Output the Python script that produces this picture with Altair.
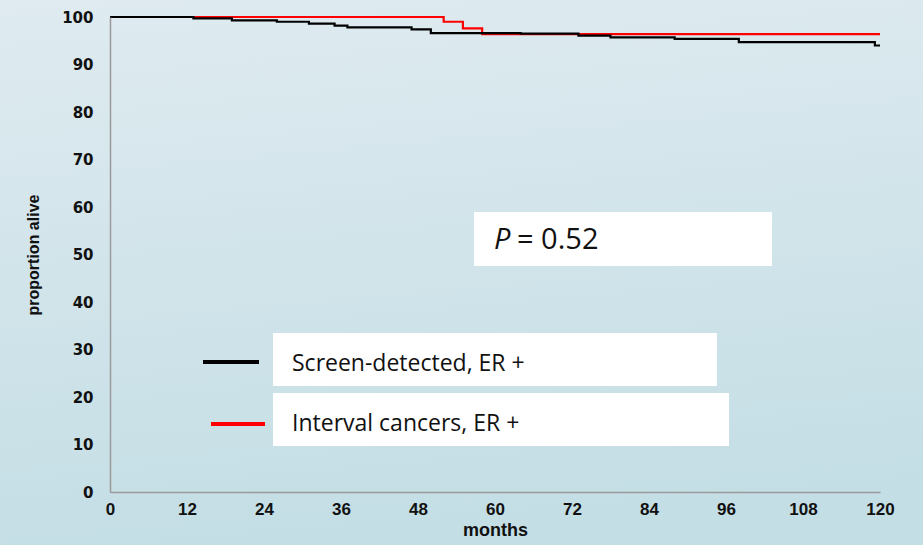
import altair as alt
import pandas as pd

# Kaplan-Meier steps (months, % alive)
screen_months = [0, 13, 19, 26, 31, 35, 37, 47, 50, 64, 73, 78, 88, 98, 119.2, 120]
screen_alive = [100, 99.7, 99.3, 99.0, 98.6, 98.2, 97.8, 97.4, 96.6, 96.5, 96.1, 95.7, 95.4, 94.7, 94.0, 94.0]

interval_months = [0, 52, 55, 58, 120]
interval_alive = [100, 99.0, 97.6, 96.4, 96.4]

x_ticks = [0, 12, 24, 36, 48, 60, 72, 84, 96, 108, 120]
y_ticks = [0, 10, 20, 30, 40, 50, 60, 70, 80, 90, 100]

series_names = ["Screen-detected, ER +", "Interval cancers, ER +"]
series_colors = ["#000000", "#ff0000"]
p_label = "P"
p_value_text = "= 0.52"

W, H = 770, 475
PAD = {"left": 110, "top": 17, "right": 43, "bottom": 53}

screen = pd.DataFrame({"months": screen_months, "alive": screen_alive})
interval = pd.DataFrame({"months": interval_months, "alive": interval_alive})
one = pd.DataFrame({"k": [0]})

x_scale = alt.Scale(domain=[0, 120], nice=False, zero=False)
y_scale = alt.Scale(domain=[0, 100], nice=False)

# page background gradient
bg = alt.Chart(one).mark_rect(
    fill=alt.Gradient(
        gradient="linear", x1=0, y1=0, x2=0.15, y2=1,
        stops=[alt.GradientStop(offset=0, color="#dfebf0"),
               alt.GradientStop(offset=1, color="#c4dee5")],
    ),
    clip=False,
).encode(
    x=alt.value(-PAD["left"]), x2=alt.value(W + PAD["right"]),
    y=alt.value(-PAD["top"]), y2=alt.value(H + PAD["bottom"]),
)

x_axis = alt.Axis(
    values=x_ticks, title="months", ticks=False, grid=False, zindex=1,
    labelFlush=False,
    labelFont="Liberation Sans", labelFontWeight="bold", labelFontSize=17,
    labelColor="#111111", labelPadding=9,
    titleFont="Liberation Sans", titleFontWeight="bold", titleFontSize=18,
    titleColor="#111111", titlePadding=4,
    domainColor="#9a9a9a", domainWidth=1.5,
)
y_axis = alt.Axis(
    values=y_ticks, title="proportion alive", ticks=False, grid=False, zindex=1,
    labelFlush=False,
    labelFont="DejaVu Sans", labelFontWeight="bold", labelFontSize=15,
    labelColor="#111111", labelPadding=17,
    titleFont="Liberation Sans", titleFontWeight="bold", titleFontSize=16,
    titleColor="#111111", titlePadding=20,
    domainColor="#9a9a9a", domainWidth=1.5,
)

red_line = alt.Chart(interval).mark_line(
    interpolate="step-after", color=series_colors[1], strokeWidth=2.2
).encode(
    x=alt.X("months:Q", scale=x_scale, axis=x_axis),
    y=alt.Y("alive:Q", scale=y_scale, axis=y_axis),
)
black_line = alt.Chart(screen).mark_line(
    interpolate="step-after", color=series_colors[0], strokeWidth=2.2
).encode(
    x=alt.X("months:Q", scale=x_scale),
    y=alt.Y("alive:Q", scale=y_scale),
)

def box(x0, x1, y0, y1):
    return alt.Chart(one).mark_rect(fill="white", clip=False).encode(
        x=alt.value(x0), x2=alt.value(x1), y=alt.value(y0), y2=alt.value(y1)
    )

def txt(s, x, y, size, style="normal", font="Open Sans"):
    return alt.Chart(one).mark_text(
        text=s, align="left", baseline="middle", font=font, fontSize=size,
        fontStyle=style, color="#111111",
    ).encode(x=alt.value(x), y=alt.value(y))

def key(x0, x1, y, color):
    return alt.Chart(one).mark_rule(color=color, strokeWidth=4).encode(
        x=alt.value(x0), x2=alt.value(x1), y=alt.value(y)
    )

p_box = box(364, 662, 195, 249)
p_text = txt(p_label, 384, 223, 29, style="italic") + txt(p_value_text, 407, 223, 29)

leg1 = box(163, 607, 316, 369) + key(93, 149, 345, series_colors[0]) + txt(series_names[0], 182, 347, 23)
leg2 = box(163, 619, 376, 429) + key(101, 155, 407, series_colors[1]) + txt(series_names[1], 182, 407, 23)

chart = alt.layer(
    bg, red_line, black_line, p_box, p_text, leg1, leg2
).properties(
    width=W, height=H,
    autosize=alt.AutoSizeParams(type="none"),
    padding=PAD,
    background="#d2e5ea",
).configure_view(stroke=None)

chart.save("out.html", embed_options={"renderer": "svg", "actions": False})
